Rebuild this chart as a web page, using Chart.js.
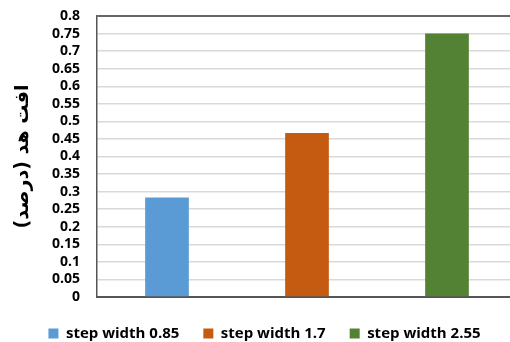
<!DOCTYPE html>
<html>
<head>
<meta charset="utf-8">
<script src="https://cdn.jsdelivr.net/npm/chart.js@4/dist/chart.umd.min.js"></script>
<style>
  html, body { margin: 0; padding: 0; background: #fff; overflow: hidden; }
  #wrap { width: 524px; height: 342px; position: relative; }
</style>
</head>
<body>
<div id="wrap"><canvas id="c" width="524" height="342"></canvas></div>
<script>
// Head loss (percent) for each step width
const seriesNames = ['step width 0.85', 'step width 1.7', 'step width 2.55'];
const headLoss = [0.283, 0.467, 0.75];
const seriesColors = ['#5B9BD5', '#C55A11', '#548235'];
const yTicks = [0, 0.05, 0.1, 0.15, 0.2, 0.25, 0.3, 0.35, 0.4, 0.45, 0.5, 0.55, 0.6, 0.65, 0.7, 0.75, 0.8];
const yTitle = 'افت هد (درصد)';

const datasets = seriesNames.map((name, i) => ({
  label: name,
  data: [headLoss[i]],
  backgroundColor: seriesColors[i],
  borderWidth: 0,
  categoryPercentage: 1.0,
  barPercentage: 0.312
}));

new Chart(document.getElementById('c'), {
  type: 'bar',
  data: { labels: [''], datasets },
  options: {
    responsive: false,
    animation: false,
    layout: { padding: { top: 16, right: 7, left: 12, bottom: -9 } },
    plugins: {
      tooltip: { enabled: false },
      legend: {
        position: 'bottom',
        labels: {
          boxWidth: 10,
          boxHeight: 10,
          padding: 24,
          color: '#000',
          font: { family: 'Open Sans', weight: 'bold', size: 15 }
        }
      }
    },
    scales: {
      x: {
        ticks: { display: false },
        grid: { display: false, drawTicks: false },
        border: { display: true, color: '#555', width: 2 },
        afterFit: axis => { axis.height = 5; }
      },
      y: {
        min: 0,
        max: 0.8,
        afterBuildTicks: axis => { axis.ticks = yTicks.map(v => ({ value: v })); },
        afterFit: axis => {
          axis.width = 85;
          axis.paddingTop = 0;
          axis.paddingBottom = 0;
        },
        ticks: {
          autoSkip: false,
          padding: 17,
          color: '#000',
          font: { family: 'Open Sans', weight: 'bold', size: 14 },
          callback: v => String(v)
        },
        grid: {
          drawTicks: false,
          color: ctx => ctx.tick && ctx.tick.value === 0.8 ? '#666' : '#d9d9d9',
          lineWidth: ctx => ctx.tick && ctx.tick.value === 0.8 ? 2 : 1.5
        },
        border: { display: true, color: '#555', width: 1.5 },
        title: {
          display: true,
          text: yTitle,
          color: '#000',
          padding: { top: 0, bottom: 6 },
          font: { family: 'DejaVu Sans', weight: 'bold', size: 19 }
        }
      }
    }
  }
});
</script>
</body>
</html>
